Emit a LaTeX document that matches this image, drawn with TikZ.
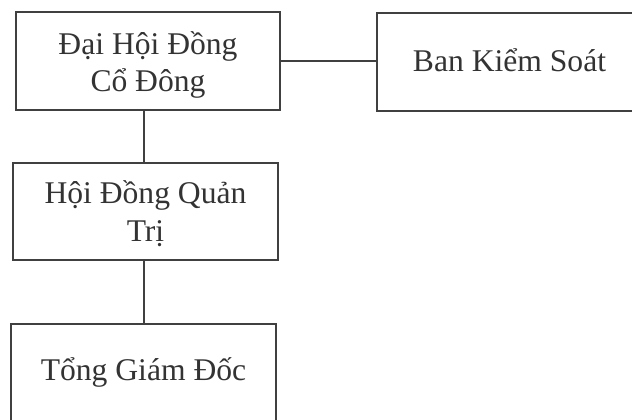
\documentclass[tikz,border=0pt]{standalone}
\usepackage{fontspec}
\setmainfont{Liberation Serif}
\begin{document}
\begin{tikzpicture}[x=0.75pt,y=-0.75pt,
  orgbox/.style={draw=black!75, line width=1.1pt, inner sep=0pt},
  orgtext/.style={text=black!80, align=center, inner sep=0pt,
    font=\fontsize{23.7}{28.3}\selectfont},
  link/.style={draw=black!75, line width=1.1pt}]
\useasboundingbox (0,0) rectangle (632,420);
\clip (0,0) rectangle (632,420);
\node[orgbox, minimum width=264*0.75pt, minimum height=98*0.75pt] (dhdcd) at (148,61) {};
\node[orgbox, minimum width=265*0.75pt, minimum height=98*0.75pt] (bks) at (509.5,62) {};
\node[orgbox, minimum width=265*0.75pt, minimum height=97*0.75pt] (hdqt) at (145.5,211.5) {};
\node[orgbox, minimum width=265*0.75pt, minimum height=100*0.75pt] (tgd) at (143.5,374) {};
\node[orgtext, anchor=base] (dhdcd-t) at (148,92) {Đại Hội Đồng\\Cổ Đông};
\node[orgtext, anchor=base] (bks-t) at (509.5,72) {Ban Kiểm Soát};
\node[orgtext, anchor=base] (hdqt-t) at (145.5,241.5) {Hội Đồng Quản\\Trị};
\node[orgtext, anchor=base] (tgd-t) at (143.5,380) {Tổng Giám Đốc};
\coordinate (spine) at (144,0);
\draw[link] (dhdcd.east |- 0,61) -- (bks.west |- 0,61);
\draw[link] (dhdcd.south -| spine) -- (hdqt.north -| spine);
\draw[link] (hdqt.south -| spine) -- (tgd.north -| spine);
\end{tikzpicture}
\end{document}
